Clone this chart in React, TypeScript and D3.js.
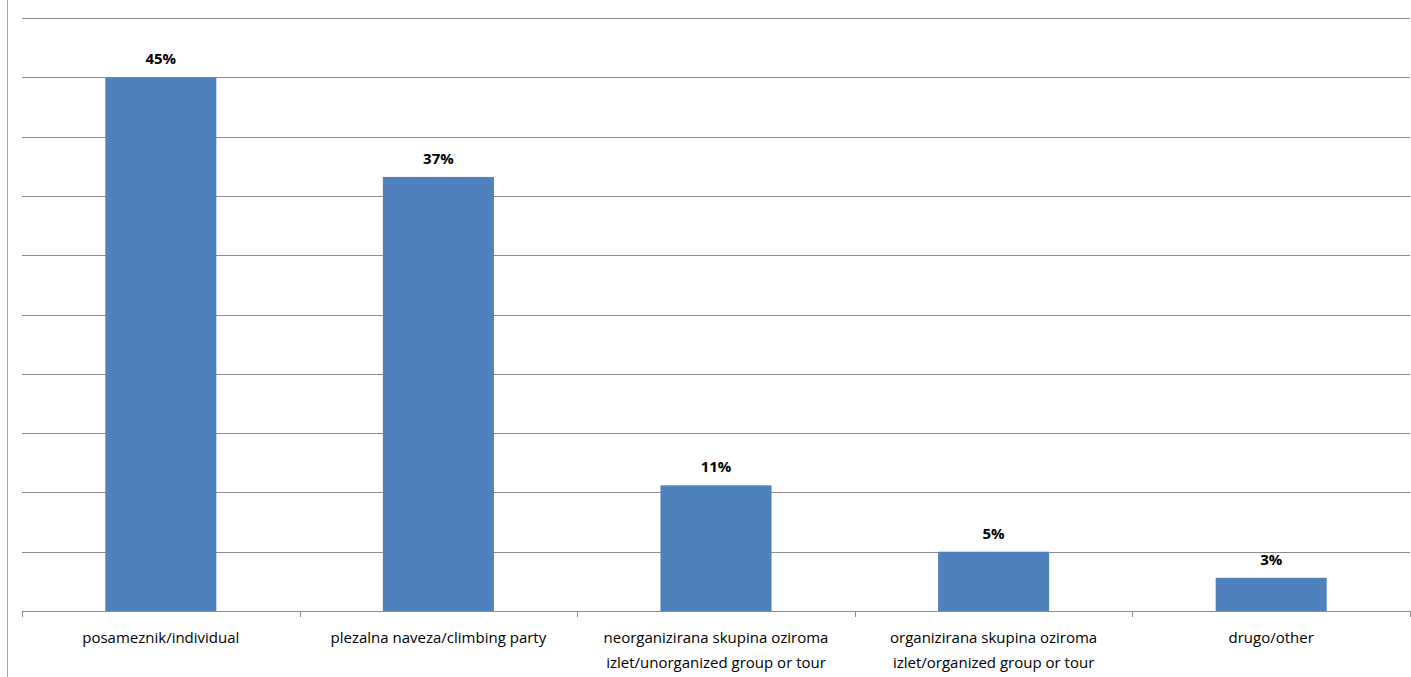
import React, { useEffect, useRef } from "react";
import * as d3 from "d3";

const categories: string[][] = [
  ["posameznik/individual"],
  ["plezalna naveza/climbing party"],
  ["neorganizirana skupina oziroma", "izlet/unorganized group or tour"],
  ["organizirana skupina oziroma", "izlet/organized group or tour"],
  ["drugo/other"],
];
const values: number[] = [45, 36.6, 10.6, 5.0, 2.8];
const gridTicks: number[] = [0, 5, 10, 15, 20, 25, 30, 35, 40, 45, 50];

const W = 1411;
const H = 677;
const FONT = "'Open Sans', sans-serif";

export default function App() {
  const ref = useRef<SVGSVGElement | null>(null);
  useEffect(() => {
    const svg = d3.select(ref.current);
    svg.selectAll("*").remove();
    const left = 22, right = 1410, top = 18, bottom = 611;
    const idx = categories.map((_, i) => String(i));
    const xOuter = d3.scaleBand<string>().domain(idx).range([left, right]).padding(0);
    const x = d3.scaleBand<string>().domain(idx).range([left, right]).paddingInner(0.6).paddingOuter(0.3);
    const y = d3.scaleLinear().domain([0, 50]).range([bottom, top]);

    // left frame line
    svg.append("line").attr("x1", 7.5).attr("x2", 7.5).attr("y1", 0).attr("y2", H)
      .attr("stroke", "#a6a6a6").attr("stroke-width", 1);

    // gridlines
    svg.append("g").selectAll("line").data(gridTicks).join("line")
      .attr("x1", left).attr("x2", right)
      .attr("y1", d => Math.round(y(d)) + 0.5).attr("y2", d => Math.round(y(d)) + 0.5)
      .attr("stroke", "#8c8c8c").attr("stroke-width", 1);

    // x tick marks
    const bounds = idx.map(i => xOuter(i) as number).concat([right]);
    svg.append("g").selectAll("line").data(bounds).join("line")
      .attr("x1", d => Math.round(d) + 0.5).attr("x2", d => Math.round(d) + 0.5)
      .attr("y1", bottom).attr("y2", bottom + 6)
      .attr("stroke", "#8c8c8c").attr("stroke-width", 1);

    // bars
    svg.append("g").selectAll("rect").data(values).join("rect")
      .attr("x", (_, i) => x(String(i)) as number)
      .attr("width", x.bandwidth())
      .attr("y", d => y(d))
      .attr("height", d => y(0) - y(d))
      .attr("fill", "#4F81BD");

    // value labels
    svg.append("g").selectAll("text").data(values).join("text")
      .attr("x", (_, i) => (x(String(i)) as number) + x.bandwidth() / 2)
      .attr("y", d => y(d) - 13)
      .attr("text-anchor", "middle")
      .attr("font-family", FONT)
      .attr("font-weight", "bold")
      .attr("font-size", 15)
      .attr("fill", "#000")
      .text(d => `${Math.round(d)}%`);

    // category labels
    const cat = svg.append("g").selectAll("text").data(categories).join("text")
      .attr("x", (_, i) => (xOuter(String(i)) as number) + xOuter.bandwidth() / 2)
      .attr("y", bottom + 32)
      .attr("text-anchor", "middle")
      .attr("font-family", FONT)
      .attr("font-size", 15)
      .attr("fill", "#000");
    cat.selectAll("tspan").data(d => d).join("tspan")
      .attr("x", function () {
        return (this.parentNode as SVGTextElement).getAttribute("x");
      })
      .attr("dy", (_, j) => (j === 0 ? 0 : 25))
      .text(d => d);
  }, []);
  return (
    <div style={{ position: "absolute", left: 0, top: 0 }}>
      <svg ref={ref} width={W} height={H} style={{ display: "block", background: "#fff" }} />
    </div>
  );
}
